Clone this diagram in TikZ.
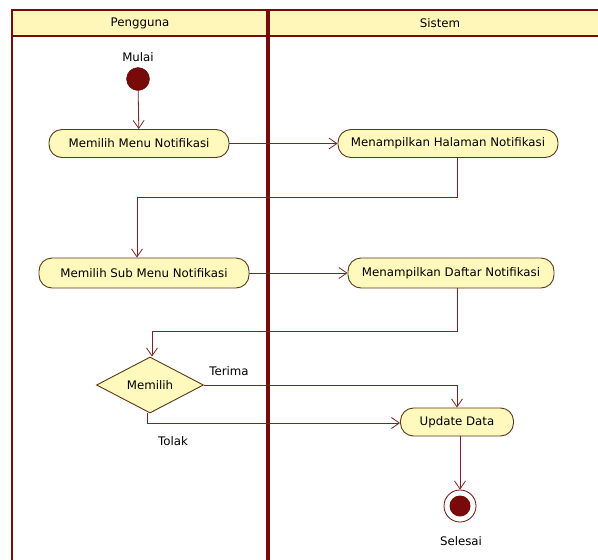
\documentclass[tikz,border=0pt]{standalone}
\usepackage{fontspec}
\setmainfont{DejaVu Sans}
\usetikzlibrary{arrows.meta,shapes.geometric}
\definecolor{frame}{RGB}{120,10,10}
\definecolor{flowc}{RGB}{125,35,35}
\definecolor{actfill}{RGB}{255,249,190}
\definecolor{actdraw}{RGB}{95,55,25}
\definecolor{headfill}{RGB}{255,247,185}
\tikzset{
  act/.style={draw=actdraw, fill=actfill, line width=0.9pt, rounded corners=13pt,
    inner sep=0pt, minimum height=28pt, font=\fontsize{11.8}{13}\selectfont},
  dec/.style={draw=actdraw, fill=actfill, line width=0.9pt, diamond, inner sep=0pt,
    minimum width=107pt, minimum height=56pt, font=\fontsize{11.8}{13}\selectfont},
  lbl/.style={font=\fontsize{11.8}{13}\selectfont, inner sep=0pt},
  flow/.style={draw=flowc, line width=0.8pt, -{Straight Barb[length=8pt,width=11pt,line width=0.8pt]}},
  flowline/.style={draw=flowc, line width=0.8pt},
}
\begin{document}
\begin{tikzpicture}[x=1pt,y=-1pt]
\useasboundingbox (0,0) rectangle (598,560);
\clip (0,0) rectangle (598,560);
\fill[white] (0,0) rectangle (598,560);
% header
\fill[headfill] (12,10) rectangle (620,36);
\draw[frame, line width=2pt] (12,10) -- (620,10);
\draw[frame, line width=2pt] (12,36) -- (620,36);
\draw[frame, line width=2.2pt] (12,9) -- (12,570);
\draw[frame, line width=4pt] (268,9) -- (268,570);
\node[lbl] (h1) at (140,23) {Pengguna};
\node[lbl] (h2) at (440,23) {Sistem};
% start
\node[lbl] (mulai) at (138,57) {Mulai};
\node[circle, fill=frame, draw=frame!80!black, minimum size=23pt, inner sep=0pt] (start) at (138,79) {};
% activities
\node[act, minimum width=180pt] (a1) at (139,143.5) {Memilih Menu Notifikasi};
\node[act, minimum width=220pt] (a2) at (448,143.5) {Menampilkan Halaman Notifikasi};
\node[act, minimum width=210pt, minimum height=30pt] (a3) at (144,273) {Memilih Sub Menu Notifikasi};
\node[act, minimum width=206pt, minimum height=30pt] (a4) at (451,273) {Menampilkan Daftar Notifikasi};
\node[dec] (d) at (150,385) {Memilih};
\node[act, minimum width=113pt] (u) at (457,422) {Update Data};
% end
\node[circle, draw=frame, line width=0.8pt, fill=white, minimum size=32pt, inner sep=0pt] (end) at (460,506) {};
\node[circle, fill=frame, minimum size=21pt, inner sep=0pt] (endin) at (end.center) {};
\node[lbl] (selesai) at (461,541) {Selesai};
% labels
\node[lbl] (terima) at (229,371) {Terima};
\node[lbl] (tolak) at (173,441) {Tolak};
% corner coordinates
\coordinate (k1) at (457,197);
\coordinate (k2) at (137,197);
\coordinate (k3) at (457,331);
\coordinate (k4) at (152,331);
\coordinate (k5) at (147,423);
% connectors
\draw[flow] (start) -- (a1);
\draw[flow] (a1) -- (a2);
\draw[flowline] (a2.south -| k1) -- (k1) -- (k2);
\draw[flow] (k2) -- (k2 |- a3.north);
\draw[flow] (a3) -- (a4);
\draw[flowline] (a4.south -| k3) -- (k3) -- (k4);
\draw[flow] (k4) -- (k4 |- d.north);
\draw[flow] (d.east) -- (d.east -| u.north) -- (u.north);
\draw[flow] (k5 |- d.south) -- (k5) -- (u.west |- k5);
\draw[flow] (u.south -| end.north) -- (end.north);
\end{tikzpicture}
\end{document}
